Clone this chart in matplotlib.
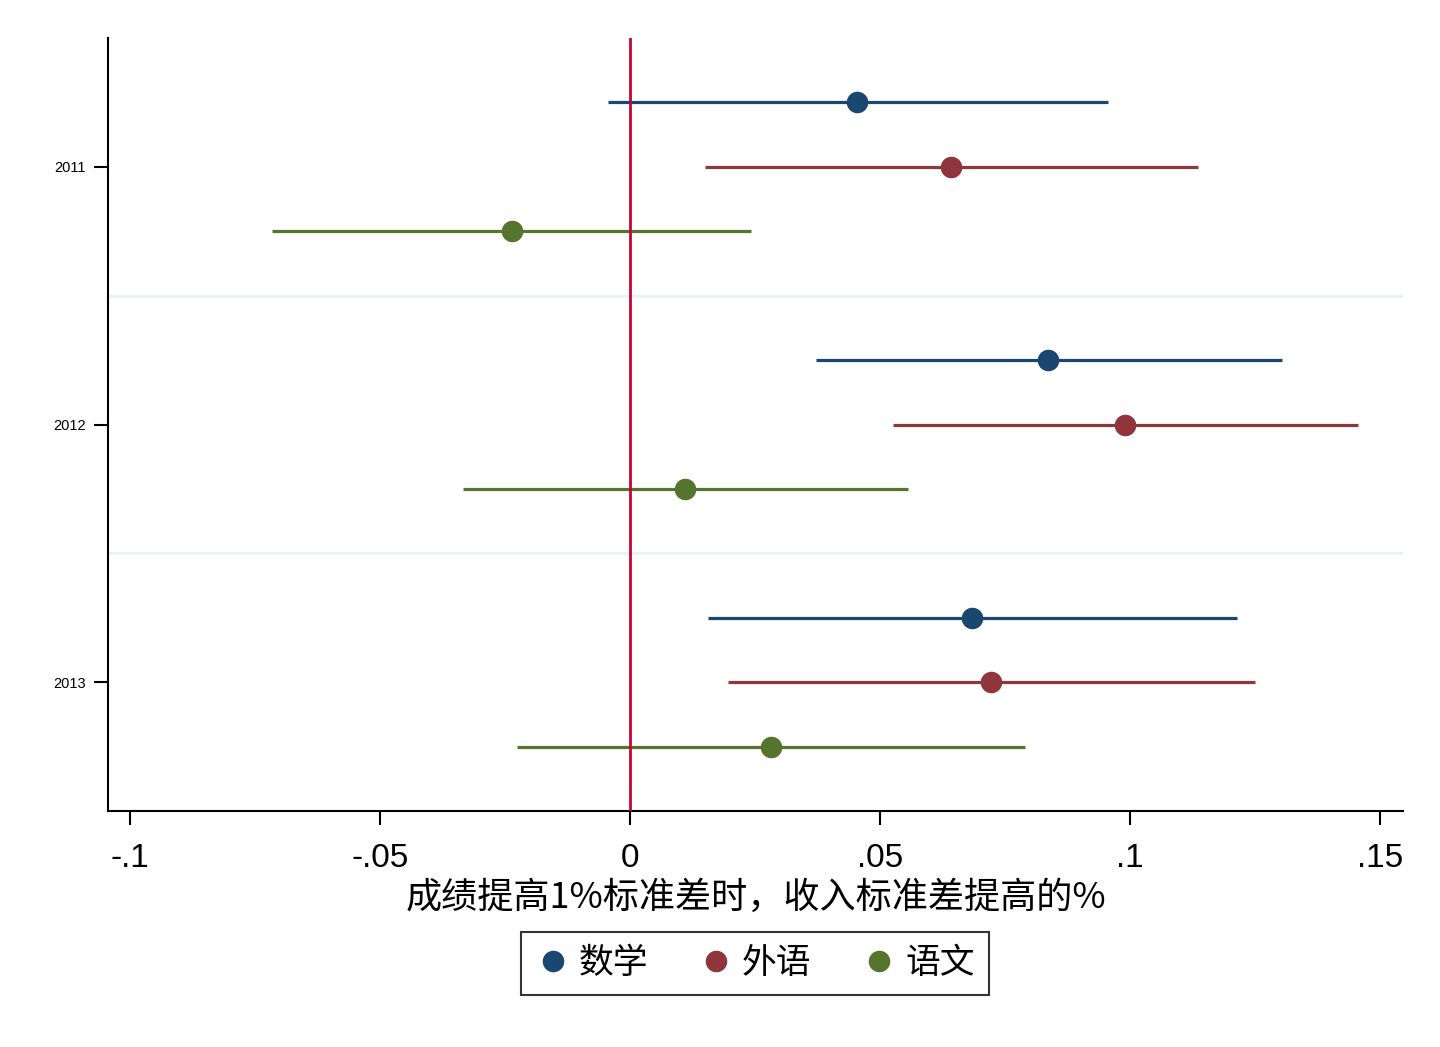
import numpy as np
import matplotlib
matplotlib.use("Agg")
import matplotlib.pyplot as plt

plt.rcParams['font.family'] = ['Liberation Sans', 'Noto Sans CJK SC', 'DejaVu Sans']

years = ["2011", "2012", "2013"]
subjects = ["数学", "外语", "语文"]
colors = ["#1a476f", "#90353b", "#55752f"]

# point estimates and CI bounds, rows = subject, cols = year
est = np.array([[0.0454, 0.0836, 0.0684],
                [0.0642, 0.0990, 0.0722],
                [-0.0236, 0.0110, 0.0282]])
lo = np.array([[-0.0044, 0.0372, 0.0156],
               [0.0150, 0.0526, 0.0196],
               [-0.0716, -0.0334, -0.0226]])
hi = np.array([[0.0956, 0.1304, 0.1214],
               [0.1136, 0.1456, 0.1250],
               [0.0242, 0.0556, 0.0790]])

xticks = [-0.1, -0.05, 0, 0.05, 0.1, 0.15]
xticklabels = ["-.1", "-.05", "0", ".05", ".1", ".15"]
xlabel = "成绩提高1%标准差时，收入标准差提高的%"

fig = plt.figure(figsize=(14.4, 10.47), dpi=100)
ax = fig.add_axes([0.075, 0.2254, 0.8993, 0.7383])

ypos = np.arange(1, len(years) + 1)
off = 0.25
for i, (s, c) in enumerate(zip(subjects, colors)):
    y = ypos + (i - 1) * off
    ax.hlines(y, lo[i], hi[i], color=c, lw=2.3, zorder=3)
    ax.plot(est[i], y, 'o', color=c, ms=14.5, zorder=4, label=s, linestyle='none')

# group separators
for g in ypos[:-1] + 0.5:
    ax.axhline(g, color="#eaf2f3", lw=2.2, zorder=1)

ax.axvline(0, color="#c10534", lw=2, zorder=5)

ax.set_xlim(-0.1044, 0.1546)
ax.set_ylim(3.5, 0.5)
ax.set_yticks(ypos)
ax.set_yticklabels(years, fontsize=10.5)
ax.set_xticks(xticks)
ax.set_xticklabels(xticklabels, fontsize=24)
ax.tick_params(axis='both', direction='out', length=10, width=1.5)
ax.tick_params(axis='x', pad=13)
ax.tick_params(axis='y', pad=6)
for sp in ['top', 'right']:
    ax.spines[sp].set_visible(False)
for sp in ['left', 'bottom']:
    ax.spines[sp].set_linewidth(1.5)

ax.set_xlabel(xlabel, fontsize=26, family=['Noto Sans CJK SC', 'DejaVu Sans'], labelpad=4)

leg = fig.legend(loc='center', bbox_to_anchor=(0.5243, 0.0795), ncol=3,
                 frameon=True, fancybox=False, edgecolor='black', handletextpad=0.25,
                 columnspacing=1.45, borderpad=0.4, handlelength=1.0, borderaxespad=0,
                 prop={'family': ['Noto Sans CJK SC', 'DejaVu Sans'], 'size': 25})
leg.get_frame().set_linewidth(1.5)

fig.savefig("out.png", dpi=100)
